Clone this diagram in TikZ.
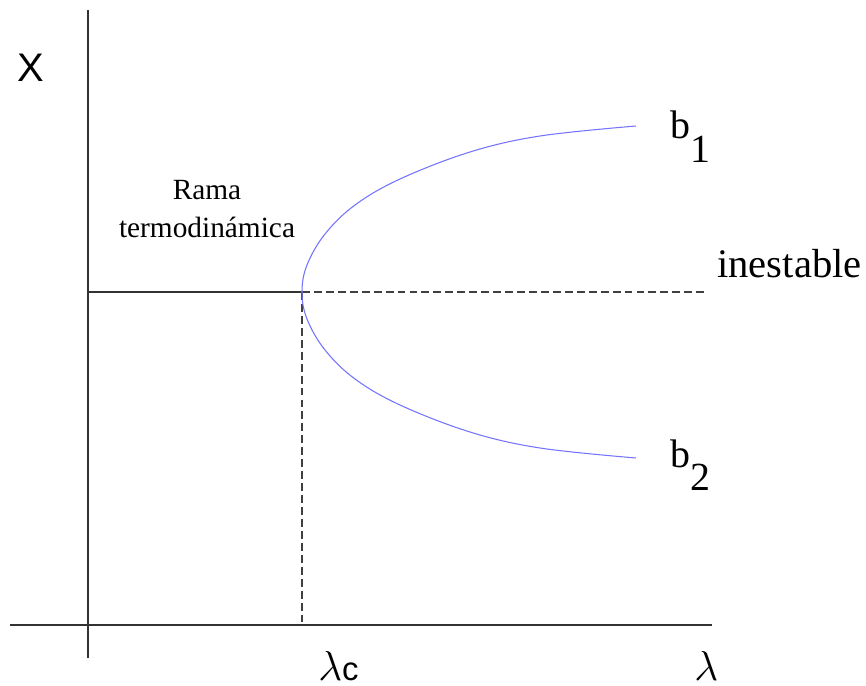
\documentclass[tikz,border=0pt]{standalone}
\usepackage{fix-cm}
\usepackage{fontspec}
\setmainfont{Liberation Serif}
\setsansfont{Liberation Sans}
\usetikzlibrary{positioning}

\begin{document}
\begin{tikzpicture}[
            x=0.02cm, y=-0.02cm,
            ax/.style={draw=black!80, line width=0.6pt},
            guide/.style={draw=black!75, line width=0.6pt, dash pattern=on 4.5pt off 2.3pt},
            branch/.style={draw=blue!55, line width=0.6pt},
            lbl/.style={inner sep=0pt, anchor=base west},
            big/.style={font=\fontsize{22.7}{27}\selectfont},
        ]
            \useasboundingbox (0,0) rectangle (866,686);
            \coordinate (ytop) at (88,10);
            \coordinate (ybot) at (88,658);
            \coordinate (xleft) at (10,625);
            \coordinate (xright) at (712,625);
            \coordinate (hstart) at (88,292);
            \coordinate (bif) at (302,292);
            \coordinate (hend) at (708,292);
            \coordinate (foot) at (302,625);
            \draw[ax] (ytop) -- (ybot);
            \draw[ax] (xleft) -- (xright);
            \draw[ax] (hstart) -- (bif);
            \draw[guide] (bif) -- (hend);
            \draw[guide] (bif) -- (foot);
            \draw[branch] plot[smooth, tension=0.6] coordinates {(636,126) (540,136) (470,152) (400,179) (355,205) (325,234) (307,265) (302,292) (307,319) (325,350) (355,379) (400,405) (470,432) (540,448) (636,458)};
            \node[lbl, font=\sffamily\fontsize{22.7}{27}\selectfont] (xlab) at (17,82) {X};
            \node[lbl, anchor=base, font=\fontsize{16.7}{21.5}\selectfont] (rama) at (207,199) {Rama};
            \node[lbl, anchor=base, font=\fontsize{16.7}{21.5}\selectfont] (termo) at (207,237) {termodinámica};
            \node[lbl, font=\fontsize{23.1}{27}\selectfont] (inest) at (717,277) {inestable};
            \node[lbl, big] (b1) at (670,139) {b\raisebox{-0.6em}{1}};
            \node[lbl, big] (b2) at (670,467) {b\raisebox{-0.58em}{2}};
            \node[lbl, font=\fontsize{23.8}{27}\selectfont] (lamc) at (318,680) {$\lambda${\sffamily\fontsize{18.7}{22}\selectfont c}};
            \node[lbl, font=\fontsize{23.8}{27}\selectfont] (lam) at (694,680) {$\lambda$};
        \end{tikzpicture}
\end{document}
